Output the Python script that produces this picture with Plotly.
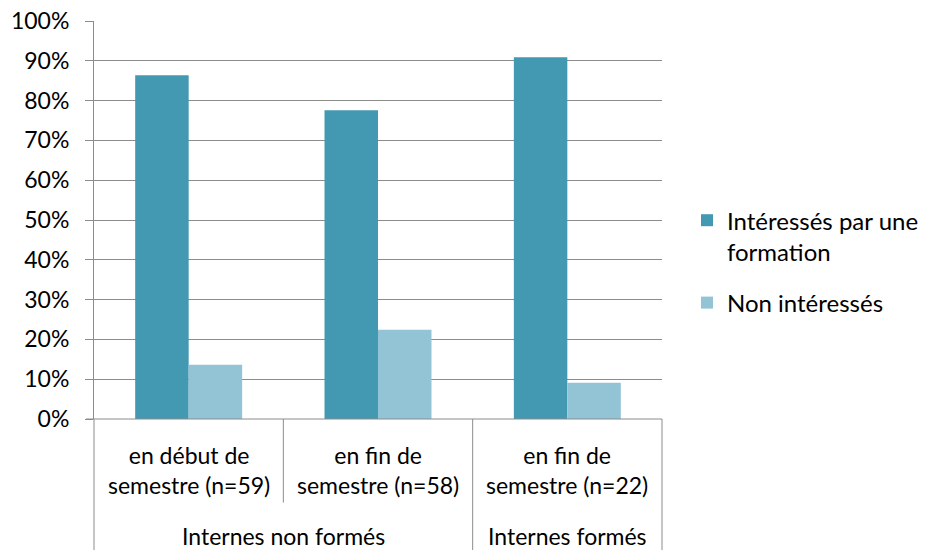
import plotly.graph_objects as go

categories = ["en début de<br>semestre (n=59)", "en fin de<br>semestre (n=58)", "en fin de<br>semestre (n=22)"]
groups = ["Internes non formés", "Internes formés"]
group_centers = [0.5, 2]
interesses = [0.864, 0.776, 0.909]
non_interesses = [0.136, 0.224, 0.091]

font = "Lato, Open Sans, sans-serif"
grid = "#8c8c8c"
fs = 23

fig = go.Figure()
fig.add_trace(go.Bar(x=list(range(3)), y=interesses, name="Intéressés par une<br>formation",
                     legendgroup="a", marker=dict(color="#4399b1", line=dict(width=0))))
fig.add_trace(go.Bar(x=list(range(3)), y=non_interesses, name="Non intéressés",
                     legendgroup="b", marker=dict(color="#93c4d6", line=dict(width=0))))

fig.update_layout(
    width=927, height=550,
    margin=dict(l=94, r=265, t=21, b=131, autoexpand=False),
    template="none",
    plot_bgcolor="white", paper_bgcolor="white",
    font=dict(family=font, size=fs, color="black"),
    barmode="group", bargap=0.435, bargroupgap=0,
    legend=dict(x=1.044, y=0.555, xanchor="left", yanchor="top", valign="top",
                font=dict(size=24), tracegroupgap=17, itemwidth=30),
    showlegend=True,
)
fig.update_xaxes(range=[-0.5, 2.5], showticklabels=False, showgrid=False, zeroline=False,
                 showline=False, ticks="", automargin=False)
fig.update_yaxes(range=[0, 1], dtick=0.1, tickformat=".0%", showgrid=True, gridcolor=grid,
                 gridwidth=1, zeroline=False, showline=True, linecolor=grid, linewidth=1,
                 ticks="outside", ticklen=8, tickcolor=grid, ticklabelstandoff=11,
                 automargin=False)

# bottom axis line and category dividers
fig.add_shape(type="line", xref="x domain", yref="paper", x0=-0.014, x1=1, y0=0, y1=0,
              line=dict(color=grid, width=1))
for xd, yb in [(0, -0.33), (1 / 3, -0.21), (2 / 3, -0.33), (1, -0.33)]:
    fig.add_shape(type="line", xref="x domain", yref="paper", x0=xd, x1=xd, y0=0, y1=yb,
                  line=dict(color=grid, width=1))

for i, c in enumerate(categories):
    fig.add_annotation(x=i, y=-0.127, xref="x", yref="paper", text=c, showarrow=False,
                       font=dict(size=fs), yanchor="middle")
for gx, g in zip(group_centers, groups):
    fig.add_annotation(x=gx, y=-0.294, xref="x", yref="paper", text=g, showarrow=False,
                       font=dict(size=fs), yanchor="middle")

# the page body has a default 8px margin; drop it so the figure fills the window
fig.write_html("out.html", config={"displayModeBar": False},
               post_script="document.body.style.margin='0';")
